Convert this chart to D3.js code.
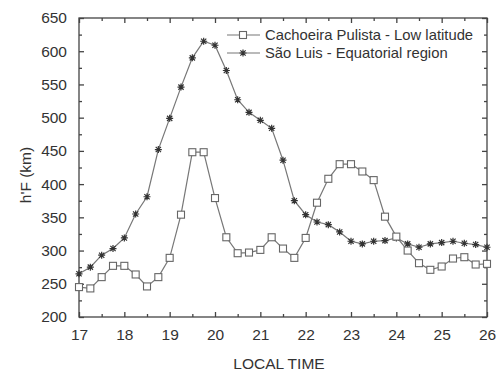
<!DOCTYPE html>
<html><head><meta charset="utf-8">
<script src="https://cdn.jsdelivr.net/npm/d3@7"></script>
<style>body{margin:0;background:#fff}svg{display:block}</style>
</head><body>
<svg id="c" width="497" height="373"></svg>
<script>
const times = d3.range(17, 26.001, 0.25);
const cachoeira = [245,243,260,277,277,264,246,260,289,354,448,448,379,320,296,297,301,320,303,289,319,372,408,430,430,419,406,351,321,300,281,271,276,288,290,279,280];
const saoLuis = [265,275,293,303,319,355,381,452,499,546,590,615,609,571,527,508,496,484,436,375,354,343,339,328,314,310,314,315,319,310,305,310,312,314,311,309,305];
const xTicks = [17,18,19,20,21,22,23,24,25,26];
const yTicks = [200,250,300,350,400,450,500,550,600,650];
const seriesNames = ["Cachoeira Pulista - Low latitude","São Luis - Equatorial region"];

const svg = d3.select("#c");
const L=79,R=487,T=18,B=317;
const x = d3.scaleLinear().domain([17,26]).range([L,R]);
const y = d3.scaleLinear().domain([200,650]).range([B,T]);
const axisCol="#444", txtCol="#333", font="Arial, 'Liberation Sans', sans-serif";

// frame
svg.append("rect").attr("x",L).attr("y",T).attr("width",R-L).attr("height",B-T)
  .attr("fill","none").attr("stroke",axisCol).attr("stroke-width",1.3);

// axes
const minorX = d3.range(17.5,26,1);
const minorY = d3.range(225,650,50);
function addAxis(gen, tr){ const g=svg.append("g").attr("transform",tr).call(gen);
  g.select(".domain").remove(); g.selectAll("line").attr("stroke",axisCol).attr("stroke-width",1.3);
  g.selectAll("text").attr("fill",txtCol).style("font-family",font).style("font-size","15.5px"); return g;}
addAxis(d3.axisBottom(x).tickValues(xTicks).tickSizeInner(-5).tickSizeOuter(0).tickPadding(12).tickFormat(d3.format("d")),`translate(0,${B})`);
addAxis(d3.axisBottom(x).tickValues(minorX).tickSizeInner(-3).tickSizeOuter(0).tickFormat(""),`translate(0,${B})`);
addAxis(d3.axisTop(x).tickValues(xTicks).tickSizeInner(-5).tickSizeOuter(0).tickFormat(""),`translate(0,${T})`);
addAxis(d3.axisTop(x).tickValues(minorX).tickSizeInner(-3).tickSizeOuter(0).tickFormat(""),`translate(0,${T})`);
addAxis(d3.axisLeft(y).tickValues(yTicks).tickSizeInner(-5).tickSizeOuter(0).tickPadding(12).tickFormat(d3.format("d")),`translate(${L},0)`);
addAxis(d3.axisLeft(y).tickValues(minorY).tickSizeInner(-3).tickSizeOuter(0).tickFormat(""),`translate(${L},0)`);
addAxis(d3.axisRight(y).tickValues(yTicks).tickSizeInner(-5).tickSizeOuter(0).tickFormat(""),`translate(${R},0)`);
addAxis(d3.axisRight(y).tickValues(minorY).tickSizeInner(-3).tickSizeOuter(0).tickFormat(""),`translate(${R},0)`);

// titles
svg.append("text").attr("x",279).attr("y",369).attr("text-anchor","middle")
  .attr("fill",txtCol).style("font-family",font).style("font-size","15.5px").text("LOCAL TIME");
svg.append("text").attr("transform","translate(31,175) rotate(-90)").attr("text-anchor","middle")
  .attr("fill",txtCol).style("font-family",font).style("font-size","15.5px").text("h'F (km)");

const lineCol="#777";
const line = d3.line().x((d,i)=>x(times[i])).y(d=>y(d));
function asterisk(g,cx,cy,r){
  const p=`M${cx-r},${cy}L${cx+r},${cy}M${cx},${cy-r}L${cx},${cy+r}M${cx-r*0.75},${cy-r*0.75}L${cx+r*0.75},${cy+r*0.75}M${cx-r*0.75},${cy+r*0.75}L${cx+r*0.75},${cy-r*0.75}`;
  g.append("path").attr("d",p).attr("stroke","#333").attr("stroke-width",1.2).attr("fill","none");
}
// São Luis
svg.append("path").datum(saoLuis).attr("d",line).attr("fill","none").attr("stroke",lineCol).attr("stroke-width",1.2);
const gs = svg.append("g");
saoLuis.forEach((v,i)=>asterisk(gs,x(times[i]),y(v),3.5));
// Cachoeira
svg.append("path").datum(cachoeira).attr("d",line).attr("fill","none").attr("stroke",lineCol).attr("stroke-width",1.2);
svg.append("g").selectAll("rect").data(cachoeira).join("rect")
  .attr("x",(d,i)=>x(times[i])-3.5).attr("y",d=>y(d)-3.5).attr("width",7).attr("height",7)
  .attr("fill","#fff").attr("stroke","#666").attr("stroke-width",1.1);

// legend
const lg = svg.append("g");
[0,1].forEach(k=>{
  const ly = 35 + k*18;
  lg.append("line").attr("x1",227).attr("x2",260).attr("y1",ly).attr("y2",ly).attr("stroke",lineCol).attr("stroke-width",1.2);
  if(k===0) lg.append("rect").attr("x",239.5).attr("y",ly-3.5).attr("width",7).attr("height",7).attr("fill","#fff").attr("stroke","#666").attr("stroke-width",1.1);
  else asterisk(lg,243,ly,3.5);
  lg.append("text").attr("x",265).attr("y",ly+5).attr("fill",txtCol).style("font-family",font).style("font-size","14.8px").text(seriesNames[k]);
});
</script>
</body></html>
